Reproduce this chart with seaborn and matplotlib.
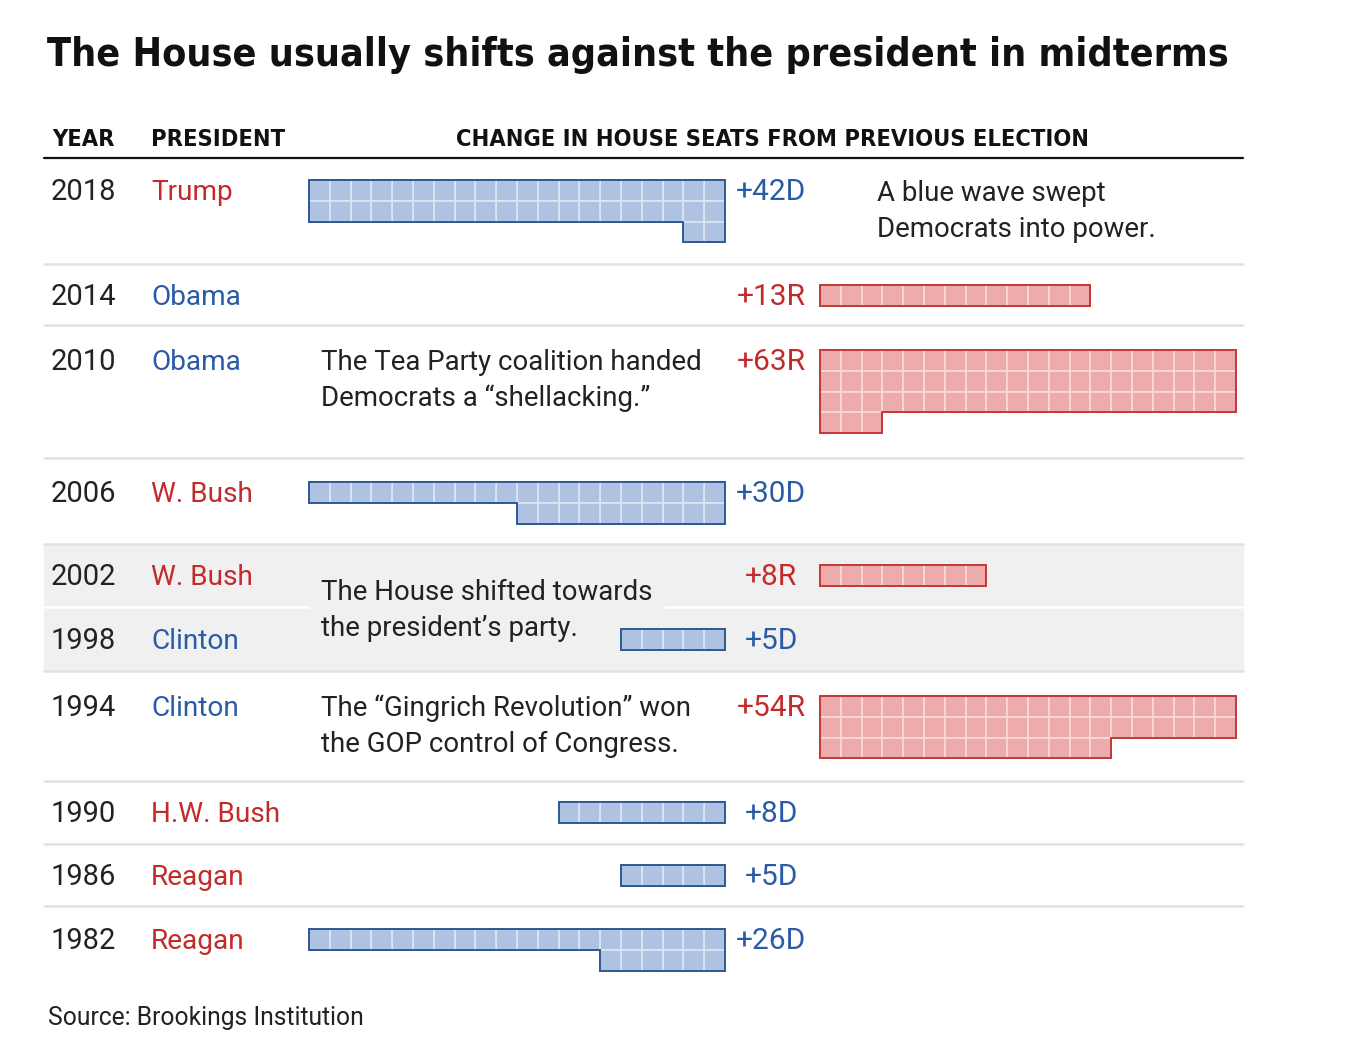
import matplotlib.pyplot as plt
import seaborn as sns
from matplotlib.patches import Rectangle, Polygon

sns.set_style('white')
plt.rcParams['font.family'] = ['Roboto', 'DejaVu Sans']

# datos
years = [2018, 2014, 2010, 2006, 2002, 1998, 1994, 1990, 1986, 1982]
presidents = ['Trump', 'Obama', 'Obama', 'W. Bush', 'W. Bush', 'Clinton',
              'Clinton', 'H.W. Bush', 'Reagan', 'Reagan']
president_party = ['R', 'D', 'D', 'R', 'R', 'D', 'D', 'R', 'R', 'R']
seat_change = [42, 13, 63, 30, 8, 5, 54, 8, 5, 26]
gain_party = ['D', 'R', 'R', 'D', 'R', 'D', 'R', 'D', 'D', 'D']

notes = {
    0: ['A blue wave swept', 'Democrats into power.'],
    2: ['The Tea Party coalition handed', 'Democrats a \u201cshellacking.\u201d'],
    4: ['The House shifted towards', 'the president\u2019s party.'],
    6: ['The \u201cGingrich Revolution\u201d won', 'the GOP control of Congress.'],
}

# layout (pixeles)
W, H = 1352, 1054
bar_tops = [180, 285, 350, 482, 565, 629, 696, 802, 865, 929]
separators = [264, 325, 458, 544, 607, 671, 781, 844, 906]
note_x = {0: 877, 2: 321, 4: 321, 6: 321}
note_y = {0: 201, 2: 370, 4: 600, 6: 716}
line_gap = 36
cell = 20.8
per_row = 20
d_anchor, r_anchor, label_x = 725, 820, 771
left, right = 44, 1243
cond = ['DejaVu Sans', 'Roboto']

text_col = {'D': '#2a5ba6', 'R': '#c22b2b'}
fill_col = {'D': '#aec2e2', 'R': '#eeabab'}
grid_col = {'D': '#dce6f4', 'R': '#f9dada'}
edge_col = {'D': '#2f5896', 'R': '#c23838'}
ink = '#222222'

fig = plt.figure(figsize=(W / 100, H / 100), dpi=100)
ax = fig.add_axes([0, 0, 1, 1])
ax.set_xlim(0, W)
ax.set_ylim(H, 0)
ax.axis('off')
renderer = fig.canvas.get_renderer()


def fit_width(t, target):
    # ajusta el tamaño para que el texto ocupe el ancho del original
    w = t.get_window_extent(renderer).width
    t.set_fontsize(t.get_fontsize() * target / w)


def outline(n, anchor, s, y0):
    full, rest = divmod(n, per_row)
    if n < per_row:
        pts = [(0, 0), (n, 0), (n, 1), (0, 1)]
    elif rest == 0:
        pts = [(0, 0), (per_row, 0), (per_row, full), (0, full)]
    else:
        pts = [(0, 0), (per_row, 0), (per_row, full), (rest, full),
               (rest, full + 1), (0, full + 1)]
    return [(anchor + s * u * cell, y0 + v * cell) for u, v in pts]


# fondo gris 2002/1998
ax.add_patch(Rectangle((left, separators[3]), right - left,
                       separators[5] - separators[3], color='#f0f0f0', zorder=0))

# titulo y cabecera
t = ax.text(47, 66, 'The House usually shifts against the president in midterms',
            fontsize=30, fontweight='bold', family=cond, fontstretch='condensed',
            va='baseline', color='#111111')
fit_width(t, 1180)
hdr = dict(fontsize=18, fontweight='bold', family=cond, fontstretch='condensed',
           va='baseline', color='#111111')
h1 = ax.text(52, 146, 'YEAR', **hdr)
h2 = ax.text(151, 146, 'PRESIDENT', **hdr)
h3 = ax.text(772, 146, 'CHANGE IN HOUSE SEATS FROM PREVIOUS ELECTION', ha='center', **hdr)
fit_width(h3, 631)
h1.set_fontsize(h3.get_fontsize())
h2.set_fontsize(h3.get_fontsize())
ax.plot([left, right], [158, 158], color='#111111', lw=1.6, zorder=3)

for i, y in enumerate(separators):
    if i == 4:
        # linea blanca interrumpida por la nota
        ax.plot([left, 308], [y, y], color='white', lw=1.8, zorder=1)
        ax.plot([665, right], [y, y], color='white', lw=1.8, zorder=1)
    else:
        ax.plot([left, right], [y, y], color='#e2e2e2', lw=1.8, zorder=1)

for i, yr in enumerate(years):
    y0 = bar_tops[i]
    base = y0 + 20
    ax.text(51, base, str(yr), fontsize=21, color=ink, va='baseline')
    ax.text(151, base, presidents[i], fontsize=20.2,
            color=text_col[president_party[i]], va='baseline')

    p, n = gain_party[i], seat_change[i]
    anchor, s = (d_anchor, -1) if p == 'D' else (r_anchor, 1)
    for k in range(n):
        r, c = divmod(k, per_row)
        x = anchor + s * c * cell - (cell if s < 0 else 0)
        ax.add_patch(Rectangle((x, y0 + r * cell), cell, cell, facecolor=fill_col[p],
                               edgecolor=grid_col[p], lw=1.2, zorder=2))
    ax.add_patch(Polygon(outline(n, anchor, s, y0), closed=True, fill=False,
                         edgecolor=edge_col[p], lw=1.4, zorder=3))
    ax.text(label_x, base, f'+{n}{p}', fontsize=21.5,
            color=text_col[p], ha='center', va='baseline')

for i, lines in notes.items():
    for j, line in enumerate(lines):
        ax.text(note_x[i], note_y[i] + j * line_gap, line, fontsize=19.9, color=ink,
                va='baseline', zorder=4)

ax.text(48, 1025, 'Source: Brookings Institution', fontsize=17.7,
        color=ink, va='baseline')

fig.savefig('out.png', dpi=100)
